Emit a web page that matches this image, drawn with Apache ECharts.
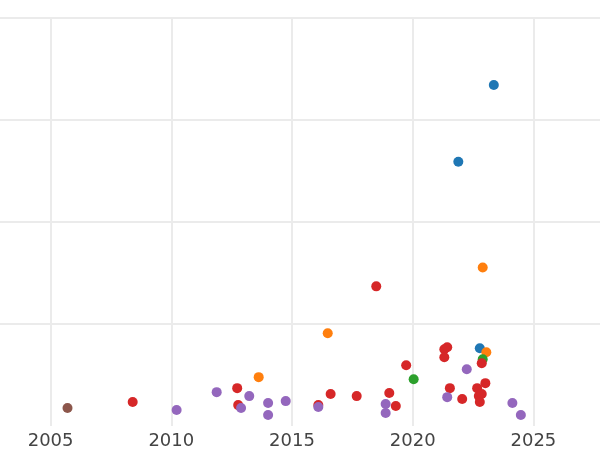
<!DOCTYPE html><html><head><meta charset="utf-8"><script src="https://cdn.jsdelivr.net/npm/echarts@6/dist/echarts.min.js"></script></head><body style="margin:0;overflow:hidden;width:600px;height:450px"><div id="c" style="width:776px;height:450px;margin-left:-96px"></div><script>
const blue=[[2023.36,3.343],[2021.89,2.590],[2022.78,0.762]];
const orange=[[2022.90,1.554],[2016.48,0.909],[2013.62,0.479],[2023.05,0.723]];
const green=[[2020.04,0.459],[2022.90,0.655]];
const brown=[[2005.70,0.176]];
const red=[[2008.40,0.235],[2012.73,0.371],[2012.77,0.205],[2018.49,1.369],[2016.60,0.313],[2016.09,0.205],[2017.68,0.293],[2019.73,0.596],[2019.03,0.323],[2019.30,0.196],[2021.31,0.753],[2021.43,0.772],[2021.31,0.674],[2021.54,0.371],[2022.05,0.264],[2022.67,0.371],[2022.74,0.293],[2022.86,0.313],[2022.78,0.235],[2023.01,0.420],[2022.86,0.616]];
const purple=[[2010.22,0.156],[2011.88,0.332],[2012.89,0.176],[2013.23,0.293],[2014.01,0.225],[2014.01,0.108],[2014.74,0.244],[2016.09,0.186],[2018.88,0.215],[2018.88,0.127],[2021.43,0.283],[2022.24,0.557],[2024.13,0.225],[2024.48,0.108]];
const groups=[[blue,'#1f77b4'],[orange,'#ff7f0e'],[green,'#2ca02c'],[red,'#d62728'],[purple,'#9467bd'],[brown,'#8c564b']];
const ch=echarts.init(document.getElementById('c'));
ch.setOption({animation:false,
grid:{left:0,right:0,top:18,bottom:23},
xAxis:{type:'value',min:2000,max:2030,interval:5,axisLine:{show:false},axisTick:{show:false},
 axisLabel:{color:'#444',fontSize:18,fontFamily:'DejaVu Sans',margin:6,formatter:v=>String(v)},
 splitLine:{show:true,lineStyle:{color:'#ebebeb',width:2}}},
yAxis:{type:'value',min:0,max:4,interval:1,axisLine:{show:false},axisTick:{show:false},axisLabel:{show:false},
 splitLine:{show:true,showMinLine:false,lineStyle:{color:'#ebebeb',width:2}}},
series:groups.map(g=>({type:'scatter',data:g[0],symbolSize:10,itemStyle:{color:g[1],opacity:1}}))
});
</script></body></html>
